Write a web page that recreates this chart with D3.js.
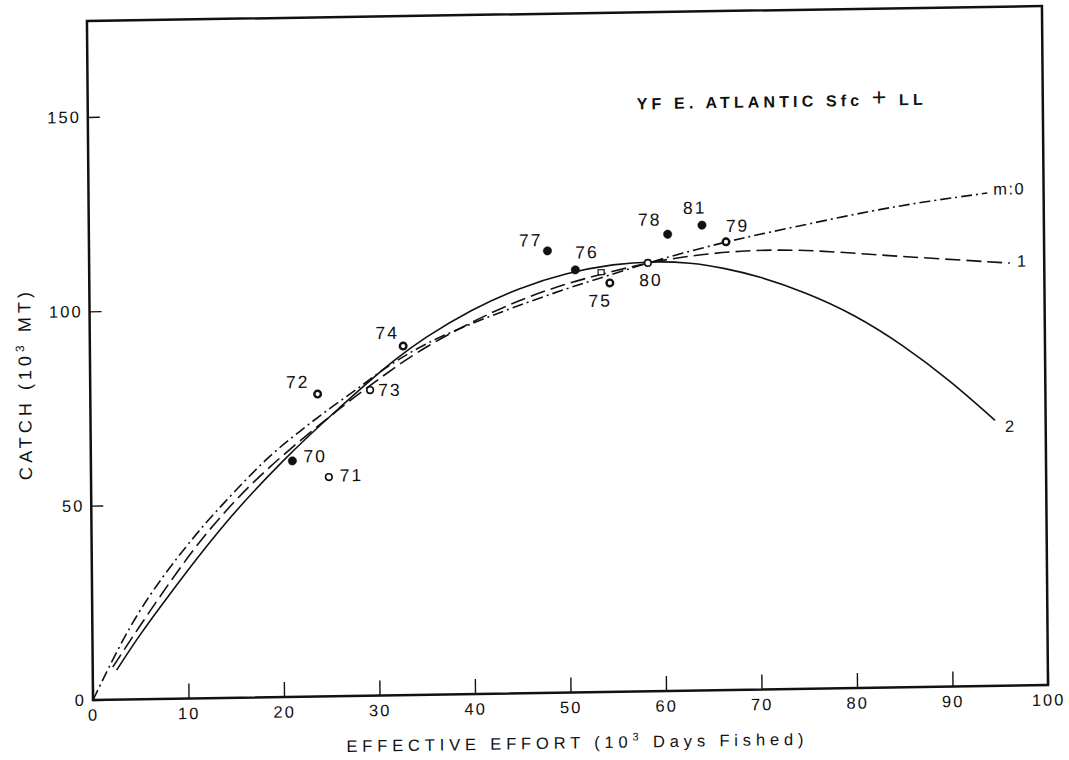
<!DOCTYPE html>
<html>
<head>
<meta charset="utf-8">
<script src="https://cdn.jsdelivr.net/npm/d3@7"></script>
<style>
  body { margin: 0; background: #fff; }
  svg { display: block; font-family: "Liberation Sans", Arial, sans-serif; }
</style>
</head>
<body>
<svg id="chart" width="1069" height="760"></svg>
<script>
// observed catch vs effort, one point per year
const years = ['70', '71', '72', '73', '74', '75', '76', '77', '78', '79', '80', '81'];
const effort = [21.1, 24.9, 23.8, 29.3, 32.8, 54.5, 50.9, 48.0, 60.6, 66.7, 58.5, 64.2];
const catches = [60.7, 56.4, 77.8, 78.6, 89.8, 105.2, 108.7, 113.7, 117.5, 115.3, 110.2, 119.7];
const symbols = ['filled', 'open', 'heavy', 'open', 'heavy', 'heavy', 'filled', 'filled', 'filled', 'heavy', 'open', 'filled'];

// fitted production curves [effort, catch]
const curveM0 = [[0, 0], [3.2, 15.8], [6, 26.8], [9, 36.5], [12, 45.3], [15, 53], [18.5, 61.8], [22, 68.5],
  [25, 74], [28, 79], [31, 84.5], [35, 90.3], [40, 95.4], [44.5, 99.4], [50, 104], [55, 107.6], [58.5, 110.2],
  [62, 112.5], [66.7, 115.3], [70, 117], [75, 119.4], [82.1, 122.8], [88, 125], [94.1, 126.8]];
const curveM1 = [[2.1, 8.4], [5, 19], [8, 29.5], [11, 39.5], [14, 48], [17, 55.5], [20, 62], [23, 68],
  [26, 73.8], [29, 79.3], [32, 84.5], [35, 89.3], [40, 95.8], [45, 101.2], [50, 105.3], [55, 108.3],
  [58.5, 110.2], [62, 111.6], [68.2, 113.1], [75, 113], [82.1, 111.4], [89, 110.1], [96.4, 108.7]];
const curveM2 = [[2.5, 7.6], [5, 16.8], [8, 26.5], [11, 36], [14, 45], [17, 53], [20, 60.5], [23, 67.5],
  [26, 74], [29, 80.5], [32, 86.5], [35, 91.8], [40, 99], [45, 104.3], [50, 108], [55, 110.1], [59, 110.6],
  [63, 110.1], [66.4, 108.6], [70, 106.4], [75, 102], [80, 96.2], [85, 88.3], [90, 78.8], [94.7, 68.3]];
const curveNames = ['m:0', '1', '2'];
const squareMark = [[53.6, 108.0]];

const xTicks = [0, 10, 20, 30, 40, 50, 60, 70, 80, 90, 100];
const yTicks = [0, 50, 100, 150];

// label placement around each point: [dx, dy, anchor]
const labelPos = {
  '70': [11, -4.5, 'start'], '71': [11, -1.5, 'start'], '72': [-8, -12.5, 'end'],
  '73': [8, 0, 'start'], '74': [-4, -13.5, 'end'], '75': [2, 17.5, 'end'],
  '76': [0, -17.5, 'start'], '77': [-5, -11, 'end'], '78': [-6, -15, 'end'],
  '79': [0, -16, 'start'], '80': [3, 17, 'middle'], '81': [-7, -17.5, 'middle']
};
const curveLabelPos = [[6, -4], [7, -2], [10, 6]];

const ink = '#111';
const svg = d3.select('#chart');

const x = d3.scaleLinear().domain([0, 100]).range([93, 1048]);
const y = d3.scaleLinear().domain([0, 150]).range([700, 117]);

// the scanned page is slightly skewed
const g = svg.append('g')
  .attr('transform', 'matrix(1,-0.0157,0.00892,1,-6.24,1.46)');

// frame
g.append('rect')
  .attr('x', x(0)).attr('y', 21)
  .attr('width', x(100) - x(0)).attr('height', y(0) - 21)
  .attr('fill', 'none').attr('stroke', ink).attr('stroke-width', 2.5);

// axes with inward ticks
const yAxis = g.append('g')
  .attr('transform', `translate(${x(0)},0)`)
  .call(d3.axisLeft(y).tickValues(yTicks).tickSize(-12).tickPadding(7).tickSizeOuter(0));

const xAxis = g.append('g')
  .attr('transform', `translate(0,${y(0)})`)
  .call(d3.axisBottom(x).tickValues(xTicks).tickSize(-15).tickPadding(9).tickSizeOuter(0));

[xAxis, yAxis].forEach((a) => {
  a.select('.domain').remove();
  a.attr('font-family', null).attr('font-size', null);
  a.selectAll('line').attr('stroke', ink).attr('stroke-width', 1.4);
  a.selectAll('text')
    .attr('fill', ink)
    .style('font-size', '16.5px')
    .style('letter-spacing', '2px');
});

// curves
const line = d3.line()
  .x((d) => x(d[0]))
  .y((d) => y(d[1]))
  .curve(d3.curveBasis);

const curves = [curveM0, curveM1, curveM2];
const dashes = ['11,4,2,4', '15,6', null];

g.append('g').selectAll('path')
  .data(curves)
  .join('path')
  .attr('d', line)
  .attr('fill', 'none')
  .attr('stroke', ink)
  .attr('stroke-width', 1.6)
  .attr('stroke-dasharray', (d, i) => dashes[i]);

g.append('g').selectAll('text')
  .data(curves)
  .join('text')
  .attr('x', (d, i) => x(d[d.length - 1][0]) + curveLabelPos[i][0])
  .attr('y', (d, i) => y(d[d.length - 1][1]) + curveLabelPos[i][1])
  .attr('dy', '0.35em')
  .attr('fill', ink)
  .style('font-size', '16.5px')
  .style('letter-spacing', '1.5px')
  .text((d, i) => curveNames[i]);

// small square marker on the curves
g.append('g').selectAll('rect')
  .data(squareMark)
  .join('rect')
  .attr('x', (d) => x(d[0]) - 3)
  .attr('y', (d) => y(d[1]) - 2.5)
  .attr('width', 6).attr('height', 5)
  .attr('fill', '#fff').attr('stroke', ink).attr('stroke-width', 1.2);

// observations
const obs = years.map((yr, i) => ({ year: yr, e: effort[i], c: catches[i], sym: symbols[i] }));

g.append('g').selectAll('circle')
  .data(obs)
  .join('circle')
  .attr('cx', (d) => x(d.e))
  .attr('cy', (d) => y(d.c))
  .attr('r', (d) => (d.sym === 'filled' ? 4.2 : 3.3))
  .attr('fill', (d) => (d.sym === 'filled' ? ink : '#fff'))
  .attr('stroke', ink)
  .attr('stroke-width', (d) => (d.sym === 'filled' ? 0.5 : d.sym === 'heavy' ? 2.4 : 1.6));

g.append('g').selectAll('text')
  .data(obs)
  .join('text')
  .attr('x', (d) => x(d.e) + labelPos[d.year][0])
  .attr('y', (d) => y(d.c) + labelPos[d.year][1])
  .attr('dy', '0.35em')
  .attr('text-anchor', (d) => labelPos[d.year][2])
  .attr('fill', ink)
  .style('font-size', '17.5px')
  .style('letter-spacing', '2px')
  .text((d) => d.year);

// title
const title = g.append('text')
  .attr('x', 642).attr('y', 118)
  .attr('fill', ink)
  .attr('textLength', 286)
  .attr('lengthAdjust', 'spacing')
  .style('font-size', '16px')
  .style('font-weight', 'bold');
title.append('tspan').text('YF E. ATLANTIC Sfc ');
title.append('tspan').style('font-size', '25px').style('font-weight', 'normal').text('+');
title.append('tspan').text(' LL');

// axis titles
const xTitle = g.append('text')
  .attr('x', 346).attr('y', 756)
  .attr('fill', ink)
  .attr('textLength', 457)
  .attr('lengthAdjust', 'spacing')
  .style('font-size', '16.5px');
xTitle.append('tspan').text('EFFECTIVE EFFORT (10');
xTitle.append('tspan').attr('dy', -7).style('font-size', '11px').text('3');
xTitle.append('tspan').attr('dy', 7).text(' Days Fished)');

const yTitle = g.append('text')
  .attr('transform', 'translate(34,385) rotate(-90)')
  .attr('text-anchor', 'middle')
  .attr('fill', ink)
  .attr('textLength', 188)
  .attr('lengthAdjust', 'spacing')
  .style('font-size', '18px');
yTitle.append('tspan').text('CATCH (10');
yTitle.append('tspan').attr('dy', -7).style('font-size', '12px').text('3');
yTitle.append('tspan').attr('dy', 7).text(' MT)');
</script>
</body>
</html>
